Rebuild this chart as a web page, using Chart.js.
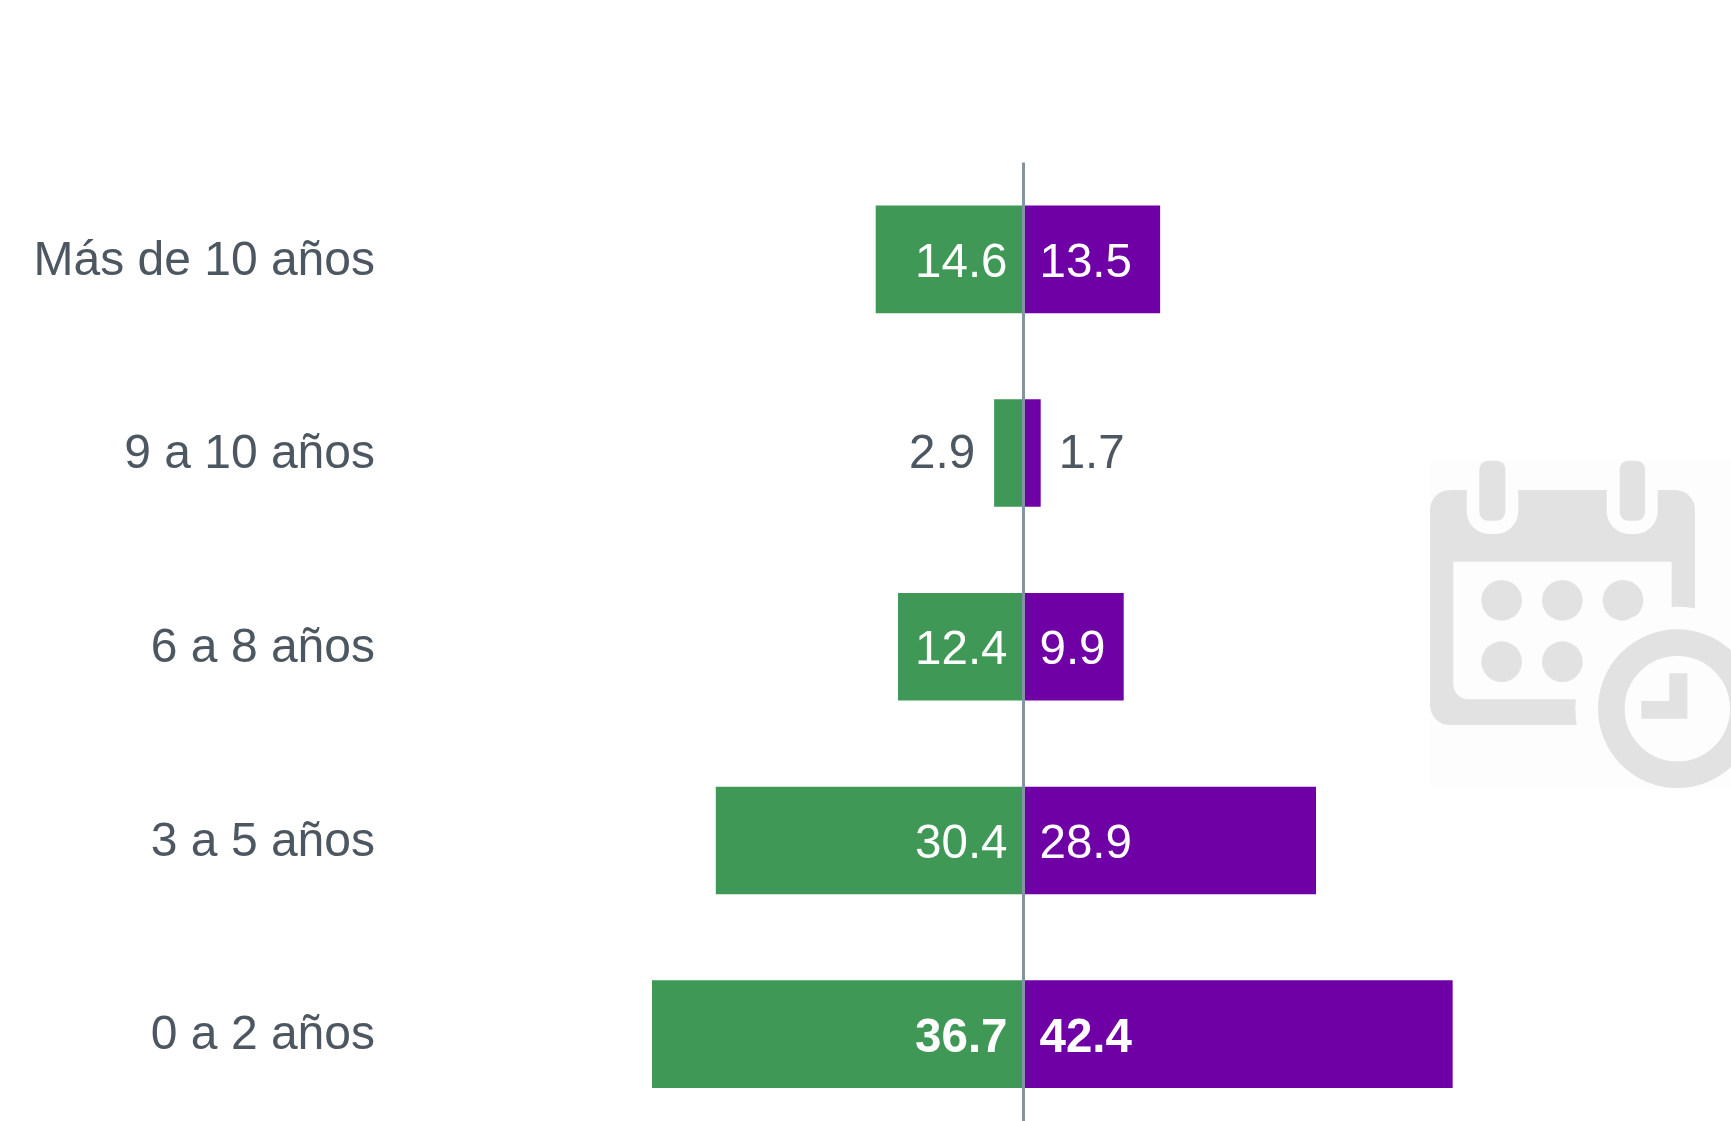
<!DOCTYPE html>
<html lang="es">
<head>
<meta charset="utf-8">
<title>Años</title>
<script src="https://cdn.jsdelivr.net/npm/chart.js@4/dist/chart.umd.min.js"></script>
<style>
html,body{margin:0;padding:0;background:#fff;width:1731px;height:1121px;overflow:hidden}
#wrap{position:relative;width:1731px;height:1121px;overflow:hidden}
#icon{position:absolute;left:1400px;top:440px;width:331px;height:370px}
canvas{position:absolute;left:0;top:0}
</style>
</head>
<body>
<div id="wrap">
<svg id="icon" viewBox="0 0 993 1110" xmlns="http://www.w3.org/2000/svg" aria-hidden="true">
  <defs><clipPath id="bgclip"><rect x="90" y="62" width="903" height="981"/></clipPath></defs>
  <rect x="90" y="62" width="903" height="981" fill="#fdfdfd"/>
  <rect x="90" y="150" width="795" height="705" rx="60" fill="#e2e2e2"/>
  <rect x="200" y="100" width="155" height="182" rx="68" fill="#fdfdfd"/>
  <rect x="620" y="100" width="153" height="182" rx="68" fill="#fdfdfd"/>
  <rect x="200" y="100" width="155" height="60" fill="#fdfdfd"/>
  <rect x="620" y="100" width="153" height="60" fill="#fdfdfd"/>
  <rect x="238" y="62" width="78" height="180" rx="26" fill="#e2e2e2"/>
  <rect x="659" y="62" width="76" height="180" rx="26" fill="#e2e2e2"/>
  <path d="M160 365H815V778H205A45 45 0 0 1 160 733Z" fill="#fdfdfd"/>
  <circle cx="305" cy="481" r="61" fill="#e2e2e2"/>
  <circle cx="487" cy="481" r="61" fill="#e2e2e2"/>
  <circle cx="669" cy="481" r="61" fill="#e2e2e2"/>
  <circle cx="305" cy="665" r="61" fill="#e2e2e2"/>
  <circle cx="487" cy="665" r="61" fill="#e2e2e2"/>
  <circle cx="832" cy="806" r="306" fill="#fdfdfd" clip-path="url(#bgclip)"/>
  <circle cx="832" cy="806" r="198" fill="none" stroke="#e2e2e2" stroke-width="80"/>
  <path d="M808 700H862V836H724V783H808Z" fill="#e2e2e2"/>
</svg>
<canvas id="c" width="1731" height="1131"></canvas>
</div>
<script>
const categories = ["Más de 10 años", "9 a 10 años", "6 a 8 años", "3 a 5 años", "0 a 2 años"];
const greenValues = [14.6, 2.9, 12.4, 30.4, 36.7];
const purpleValues = [13.5, 1.7, 9.9, 28.9, 42.4];
const GREEN = "#3f9856", PURPLE = "#6e00a5", TEXT = "#4d5761", AXIS = "#8494a3";
const FONT = '"Liberation Sans", Arial, sans-serif';

const valueLabels = {
  id: "valueLabels",
  afterDatasetsDraw(chart) {
    const { ctx } = chart;
    const zero = chart.scales.x.getPixelForValue(0);
    ctx.save();
    ctx.textBaseline = "middle";
    chart.data.datasets.forEach((ds, di) => {
      const source = di === 0 ? greenValues : purpleValues;
      chart.getDatasetMeta(di).data.forEach((bar, i) => {
        const value = source[i];
        const outside = Math.abs(bar.x - zero) < 60;
        const bold = i === categories.length - 1;
        ctx.font = (bold ? "bold " : "") + "47.5px " + FONT;
        ctx.fillStyle = outside ? TEXT : "#ffffff";
        let x;
        if (di === 0) {
          ctx.textAlign = "right";
          x = outside ? bar.x - 19 : zero - 16;
        } else {
          ctx.textAlign = "left";
          x = outside ? bar.x + 18 : zero + 16;
        }
        ctx.fillText(value.toFixed(1), x, bar.y + (outside ? 2 : 4.5));
      });
    });
    ctx.restore();
  }
};

new Chart(document.getElementById("c"), {
  type: "bar",
  plugins: [valueLabels],
  data: {
    labels: categories,
    datasets: [
      { data: greenValues.map(v => -v), backgroundColor: GREEN, borderWidth: 0 },
      { data: purpleValues, backgroundColor: PURPLE, borderWidth: 0 }
    ]
  },
  options: {
    indexAxis: "y",
    responsive: false,
    animation: false,
    devicePixelRatio: 1,
    layout: { padding: { top: 162.5, left: 0, right: 0, bottom: 0 } },
    plugins: { legend: { display: false }, tooltip: { enabled: false } },
    datasets: { bar: { barPercentage: 0.5556, categoryPercentage: 1 } },
    scales: {
      x: {
        stacked: true,
        min: -61.6,
        max: 69.9,
        border: { display: false },
        ticks: { display: false },
        afterBuildTicks(scale) { scale.ticks = [{ value: 0 }]; },
        afterFit(scale) { scale.height = 0; },
        grid: { z: 1, color: AXIS, lineWidth: 3, drawTicks: false }
      },
      y: {
        stacked: true,
        afterFit(scale) { scale.width = 400; scale.paddingTop = 0; scale.paddingBottom = 0; },
        border: { display: false },
        grid: { display: false, drawTicks: false },
        ticks: {
          color: TEXT,
          padding: 25,
          labelOffset: 2,
          font: { family: FONT, size: 48 }
        }
      }
    }
  }
});
</script>
</body>
</html>
